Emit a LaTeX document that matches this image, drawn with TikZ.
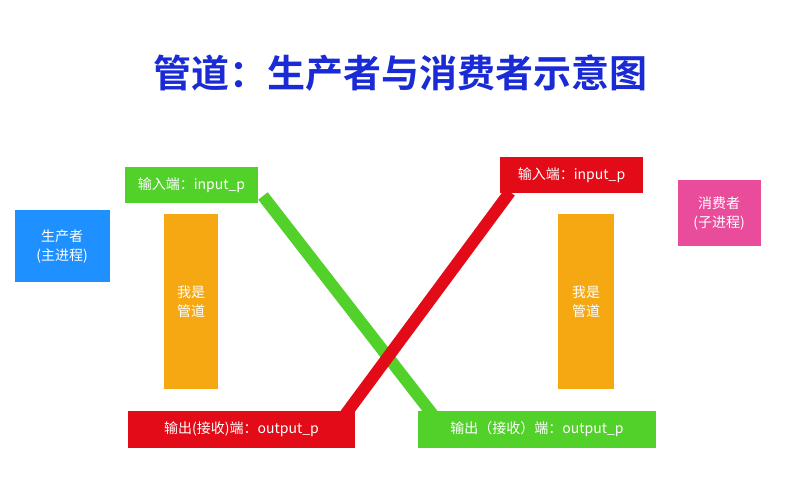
\documentclass[tikz,border=0pt]{standalone}
\usepackage{fontspec}
\newfontfamily\cjk{Noto Sans CJK SC}
\newfontfamily\cjkb{Noto Sans CJK SC Bold}
\usetikzlibrary{backgrounds}
\definecolor{tblue}{HTML}{1A2BD6}
\definecolor{pblue}{HTML}{1E90FF}
\definecolor{gr}{HTML}{52D12A}
\definecolor{rd}{HTML}{E30B17}
\definecolor{og}{HTML}{F5A811}
\definecolor{pk}{HTML}{E84C9A}
\begin{document}
\begin{tikzpicture}[x=1pt,y=-1pt,
  box/.style={inner sep=0pt,text=white,font=\cjk\fontsize{14}{19}\selectfont,align=center},
  link/.style={line width=12pt}]
\useasboundingbox (0,0) rectangle (800,477);
\node[font=\cjkb\fontsize{38}{44}\selectfont,text=tblue] (title) at (400,73) {管道：生产者与消费者示意图};
\node[box,fill=pblue,minimum width=95pt,minimum height=72pt] (prod) at (62,246) {生产者\\(主进程)};
\node[box,fill=pk,minimum width=83pt,minimum height=66pt] (cons) at (719,213) {消费者\\(子进程)};
\node[box,fill=gr,minimum width=133pt,minimum height=36pt] (gin) at (191.5,185) {输入端：input\_p};
\node[box,fill=rd,minimum width=143pt,minimum height=36pt] (rin) at (571.5,175) {输入端：input\_p};
\node[box,fill=og,minimum width=54pt,minimum height=175pt] (p1) at (191,301.5) {我是\\管道};
\node[box,fill=og,minimum width=56pt,minimum height=175pt] (p2) at (586,301.5) {我是\\管道};
\node[box,fill=rd,minimum width=227pt,minimum height=37pt] (rout) at (241.5,429.5) {输出(接收)端：output\_p};
\node[box,fill=gr,minimum width=238pt,minimum height=37pt] (gout) at (537,429.5) {输出（接收）端：output\_p};
\coordinate (ga) at (263,196);
\coordinate (gb) at (433,415);
\coordinate (ra) at (345,415);
\coordinate (rb) at (510,192);
\begin{scope}[on background layer]
\draw[link,gr] (ga) -- (gb);
\draw[link,rd] (ra) -- (rb);
\end{scope}
\end{tikzpicture}
\end{document}
